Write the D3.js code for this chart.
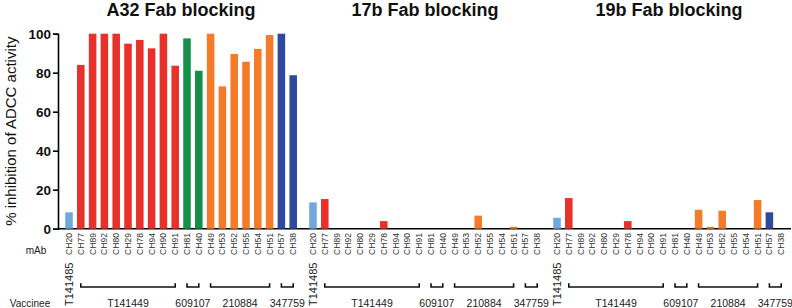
<!DOCTYPE html>
<html>
<head>
<meta charset="utf-8">
<script src="https://cdn.jsdelivr.net/npm/d3@7"></script>
<style>
  html, body { margin: 0; padding: 0; background: #fff; }
  svg { display: block; font-family: "Liberation Sans", Arial, sans-serif; }
</style>
</head>
<body>
<svg id="chart" width="792" height="308"></svg>
<script>
// ---------- data ----------
const panels = ["A32 Fab blocking", "17b Fab blocking", "19b Fab blocking"];
const mAbs = ["CH20","CH77","CH89","CH92","CH80","CH29","CH78","CH94","CH90","CH91",
              "CH81","CH40","CH49","CH53","CH52","CH55","CH54","CH51","CH57","CH38"];
const vaccineeOfMab = ["T141485","T141449","T141449","T141449","T141449","T141449","T141449","T141449","T141449","T141449",
                       "609107","609107","210884","210884","210884","210884","210884","210884","347759","347759"];
const vaccinees = ["T141485","T141449","609107","210884","347759"];
const a32Values = [8.4, 84, 100, 100, 100, 94.9, 96.8, 92.5, 100, 83.6, 97.6, 81, 100, 73, 89.6, 85.6, 92.2, 99.3, 100, 78.7];
const b17Values = [13.5, 15.2, 0, 0, 0, 0, 3.9, 0, 0, 0, 0, 0, 0, 0, 6.7, 0, 0, 1, 0, 0];
const b19Values = [5.6, 15.7, 0, 0, 0, 0, 3.9, 0, 0, 0, 0, 0, 9.7, 1, 9.2, 0, 0, 14.7, 8.4, 0];
const yTicks = [0, 20, 40, 60, 80, 100];
const yLabel = "% inhibition of ADCC activity";

const seriesValues = [a32Values, b17Values, b19Values];
const vaccineeColor = {
  "T141485": "#6fa8dd",
  "T141449": "#e8312a",
  "609107":  "#15904b",
  "210884":  "#f47b2a",
  "347759":  "#2f4a9d"
};

// ---------- scales ----------
const svg = d3.select("#chart");
const y = d3.scaleLinear().domain([0, 100]).range([228.7, 33.7]);

const panelScale = d3.scaleBand().domain(panels)
  .range([63.1, 63.1 + 2 * 244 + 236]).paddingInner(8 / 244).paddingOuter(0);
const x = d3.scaleBand().domain(mAbs)
  .range([0, panelScale.bandwidth()]).paddingInner(0.36).paddingOuter(0.18);

// ---------- axes ----------
const yAxis = d3.axisLeft(y).tickValues(yTicks).tickSize(5).tickPadding(2);
const gy = svg.append("g").attr("transform", "translate(58,0)").call(yAxis);
gy.select(".domain").attr("stroke", "#000").attr("stroke-width", 1.6);
gy.selectAll(".tick line").attr("stroke", "#000").attr("stroke-width", 1.6);
gy.selectAll(".tick text")
  .attr("font-size", "13.5px").attr("font-weight", "bold").attr("fill", "#111")
  .attr("font-family", "Liberation Sans, Arial, sans-serif");

// baseline across all panels
svg.append("line")
  .attr("x1", 58).attr("x2", 791)
  .attr("y1", y(0)).attr("y2", y(0))
  .attr("stroke", "#000").attr("stroke-width", 1.6);

// y axis label
svg.append("text")
  .attr("transform", `translate(15.5,${(y(0) + y(100)) / 2 + 0}) rotate(-90)`)
  .attr("text-anchor", "middle")
  .attr("font-size", "15px").attr("fill", "#111")
  .text(yLabel);

// ---------- panels ----------
panels.forEach((p, pi) => {
  const g = svg.append("g").attr("transform", `translate(${panelScale(p)},0)`);
  const vals = seriesValues[pi];

  // title
  g.append("text")
    .attr("x", panelScale.bandwidth() / 2).attr("y", 15.5)
    .attr("text-anchor", "middle")
    .attr("font-size", "18px").attr("font-weight", "bold").attr("fill", "#111")
    .text(p);

  // bars
  g.selectAll("rect.bar").data(mAbs.map((m, i) => ({ m, v: vals[i], vac: vaccineeOfMab[i] })))
    .join("rect").attr("class", "bar")
    .attr("x", d => x(d.m))
    .attr("width", x.bandwidth())
    .attr("y", d => y(d.v))
    .attr("height", d => y(0) - y(d.v))
    .attr("fill", d => vaccineeColor[d.vac]);

  // mAb labels
  g.selectAll("text.mab").data(mAbs).join("text").attr("class", "mab")
    .attr("transform", d => `translate(${x(d) + x.bandwidth() / 2 + 3},233) rotate(-90)`)
    .attr("text-anchor", "end")
    .attr("font-size", "8.6px").attr("fill", "#333")
    .text(d => d);

  // vaccinee groups
  vaccinees.forEach(v => {
    const idx = vaccineeOfMab.map((d, i) => d === v ? i : -1).filter(i => i >= 0);
    const m0 = mAbs[idx[0]], m1 = mAbs[idx[idx.length - 1]];
    const cx0 = x(m0) + x.bandwidth() / 2, cx1 = x(m1) + x.bandwidth() / 2;
    if (idx.length === 1) {
      g.append("text")
        .attr("transform", `translate(${cx0 + 4},306) rotate(-90)`)
        .attr("text-anchor", "start")
        .attr("font-size", "11px").attr("fill", "#222")
        .text(v);
    } else {
      g.append("path")
        .attr("d", `M${cx0},283.2 V287 H${cx1} V283.2`)
        .attr("fill", "none").attr("stroke", "#111").attr("stroke-width", 1.6);
      g.append("text")
        .attr("x", (cx0 + cx1) / 2).attr("y", 306.5)
        .attr("text-anchor", "middle")
        .attr("font-size", "10.5px").attr("fill", "#222")
        .text(v);
    }
  });
});

// row labels
svg.append("text").attr("x", 36).attr("y", 254).attr("text-anchor", "middle")
  .attr("font-size", "10px").attr("fill", "#222").text("mAb");
svg.append("text").attr("x", 30).attr("y", 306.5).attr("text-anchor", "middle")
  .attr("font-size", "10px").attr("fill", "#222").text("Vaccinee");
</script>
</body>
</html>
